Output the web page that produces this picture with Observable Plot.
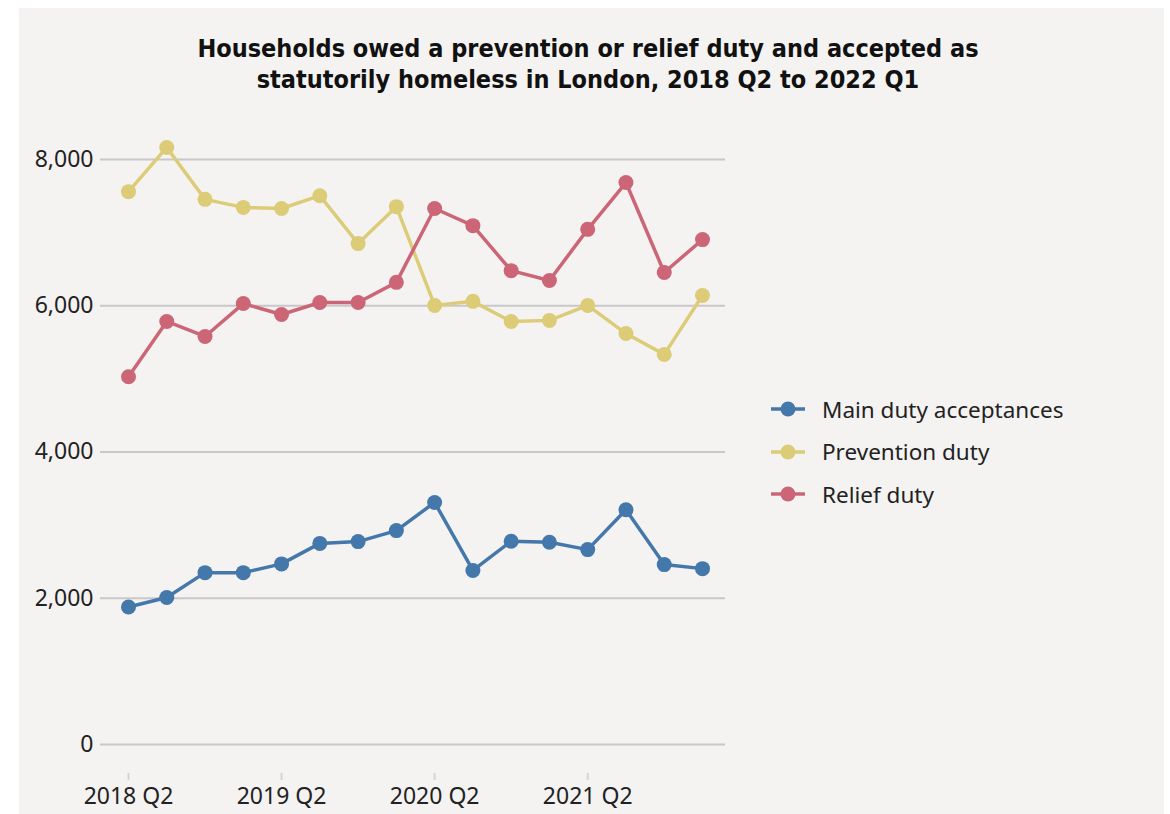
<!DOCTYPE html>
<html>
<head>
<meta charset="utf-8">
<script src="https://cdn.jsdelivr.net/npm/d3@7"></script>
<script src="https://cdn.jsdelivr.net/npm/@observablehq/plot@0.6"></script>
<style>
  html, body { margin: 0; padding: 0; background: #ffffff; }
  body { width: 1170px; height: 814px; position: relative; overflow: hidden; font-family: "Noto Sans", sans-serif; }
  #bg { position: absolute; left: 19px; top: 8px; width: 1145px; height: 806px; background: #f4f3f2; }
  #title { position: absolute; left: 588px; top: 33px; transform: translateX(-50%); white-space: nowrap; text-align: center;
           font-family: "Liberation Sans Narrow", "DejaVu Sans Condensed", "Liberation Sans", sans-serif; font-stretch: condensed;
           font-weight: bold; font-size: 25px; line-height: 31px; color: #111; }
  #chart { position: absolute; left: 0; top: 120px; }
  #legend { position: absolute; left: 770px; top: 388px; font-family: "Noto Sans", sans-serif; font-size: 22.5px; color: #222; }
  .row { display: flex; align-items: center; height: 42.5px; }
  .row svg { margin-right: 16px; }
</style>
</head>
<body>
<div id="bg"></div>
<div id="title">Households owed a prevention or relief duty and accepted as<br>statutorily homeless in London, 2018 Q2 to 2022 Q1</div>
<div id="chart"></div>
<div id="legend"></div>
<script>
const quarters = ["2018 Q2","2018 Q3","2018 Q4","2019 Q1","2019 Q2","2019 Q3","2019 Q4","2020 Q1",
                  "2020 Q2","2020 Q3","2020 Q4","2021 Q1","2021 Q2","2021 Q3","2021 Q4","2022 Q1"];
const mainDuty   = [1880, 2010, 2350, 2350, 2470, 2750, 2775, 2925, 3310, 2380, 2780, 2765, 2665, 3210, 2460, 2405];
const prevention = [7560, 8165, 7455, 7345, 7330, 7505, 6850, 7355, 6005, 6060, 5785, 5800, 6005, 5620, 5335, 6140];
const relief     = [5030, 5785, 5580, 6030, 5880, 6045, 6045, 6320, 7330, 7095, 6480, 6345, 7045, 7685, 6455, 6905];
const seriesNames = ["Main duty acceptances", "Prevention duty", "Relief duty"];
const seriesColors = ["#4477aa", "#ddcc77", "#cc6677"];
const yTicks = [0, 2000, 4000, 6000, 8000];
const xTickIdx = [0, 4, 8, 12];

const seriesValues = [mainDuty, prevention, relief];
const data = seriesValues.flatMap((vals, s) => vals.map((v, i) => ({series: seriesNames[s], i, value: v})));

const chart = Plot.plot({
  width: 760,
  height: 694,
  marginLeft: 100,
  marginRight: 35,
  marginTop: 39,
  marginBottom: 70,
  style: {background: "transparent", fontFamily: "Noto Sans, sans-serif", fontSize: "23px", color: "#222", overflow: "visible"},
  x: {type: "linear", domain: [0, 15], insetLeft: 28, insetRight: 23},
  y: {domain: [0, 8000]},
  color: {domain: seriesNames, range: seriesColors},
  marks: [
    Plot.ruleY(yTicks, {stroke: "#c8c8c8", strokeWidth: 2}),
    Plot.axisY({ticks: yTicks, tickSize: 0, tickPadding: 7, tickFormat: d3.format(","), label: null, fontSize: 23}),
    Plot.axisX({ticks: xTickIdx, tickFormat: i => quarters[i], tickSize: 7, dy: 29, tickPadding: 7, stroke: "#d4d4d4", strokeWidth: 2, label: null, fontSize: 23}),
    Plot.line(data, {x: "i", y: "value", z: "series", stroke: "series", strokeWidth: 3.5}),
    Plot.dot(data, {x: "i", y: "value", fill: "series", r: 7.5})
  ]
});
document.getElementById("chart").appendChild(chart);

const legend = document.getElementById("legend");
seriesNames.forEach((name, k) => {
  const row = document.createElement("div");
  row.className = "row";
  row.innerHTML = `<svg width="36" height="18"><line x1="1" x2="35" y1="9" y2="9" stroke="${seriesColors[k]}" stroke-width="3.5"/><circle cx="18" cy="9" r="7.5" fill="${seriesColors[k]}"/></svg><span>${name}</span>`;
  legend.appendChild(row);
});
</script>
</body>
</html>
